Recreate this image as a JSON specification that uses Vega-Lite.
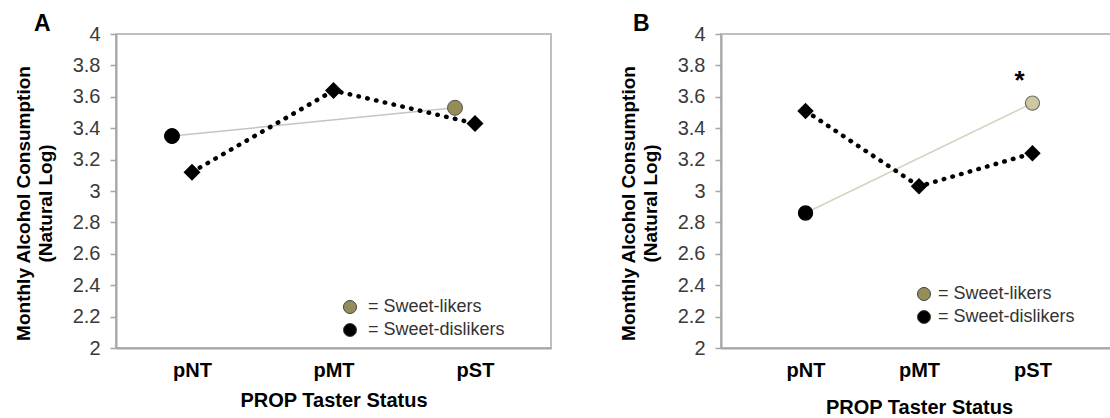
{
  "$schema": "https://vega.github.io/schema/vega-lite/v6.json",
  "padding": {"left": 13, "top": 12, "right": 0, "bottom": 0},
  "background": "white",
  "config": {
    "font": "Liberation Sans",
    "view": {"stroke": "#bfbfbf", "strokeWidth": 2},
    "axis": {"grid": false, "domainColor": "#a6a6a6", "domainWidth": 2, "tickColor": "#a6a6a6", "tickWidth": 1.5}
  },
  "datasets": {
    "a": [
      {"status": "pNT", "group": "Sweet-likers", "value": 3.35},
      {"status": "pST", "group": "Sweet-likers", "value": 3.53},
      {"status": "pNT", "group": "Sweet-dislikers", "value": 3.12},
      {"status": "pMT", "group": "Sweet-dislikers", "value": 3.64},
      {"status": "pST", "group": "Sweet-dislikers", "value": 3.43}
    ],
    "b": [
      {"status": "pNT", "group": "Sweet-likers", "value": 2.86},
      {"status": "pST", "group": "Sweet-likers", "value": 3.56, "sig": "*"},
      {"status": "pNT", "group": "Sweet-dislikers", "value": 3.51},
      {"status": "pMT", "group": "Sweet-dislikers", "value": 3.03},
      {"status": "pST", "group": "Sweet-dislikers", "value": 3.24}
    ]
  },
  "spacing": 66,
  "resolve": {"scale": {"fill": "independent"}, "legend": {"fill": "independent"}},
  "hconcat": [
    {
      "width": 435,
      "height": 314,
      "title": {"text": "A", "anchor": "start", "frame": "group", "dx": -82, "fontSize": 23, "fontWeight": "bold", "offset": -12, "color": "#000"},
      "data": {"name": "a"},
      "encoding": {
        "x": {
          "field": "status", "type": "ordinal", "sort": ["pNT", "pMT", "pST"],
          "scale": {"type": "point", "padding": 0.537},
          "axis": {"title": "PROP Taster Status", "labelAngle": 0, "ticks": false, "tickSize": 0, "labelFontSize": 20, "labelFontWeight": "bold", "labelColor": "#000", "labelPadding": 12, "titleFontSize": 20, "titleFontWeight": "bold", "titleColor": "#000", "titlePadding": 10}
        },
        "y": {
          "field": "value", "type": "quantitative",
          "scale": {"domain": [2, 4], "nice": false, "zero": false},
          "axis": {"values": [2, 2.2, 2.4, 2.6, 2.8, 3, 3.2, 3.4, 3.6, 3.8, 4], "format": "~g", "labelFontSize": 20, "labelColor": "#3a3a3a", "tickSize": 6, "labelPadding": 10, "title": ["Monthly Alcohol Consumption", "(Natural Log)"], "titleFontSize": 19, "titleFontWeight": "bold", "titleColor": "#000", "titleLineHeight": 22, "titleX": -83, "titleY": 169}
        }
      },
      "layer": [
        {
          "transform": [{"filter": "datum.group === 'Sweet-likers'"}],
          "mark": {"type": "line", "color": "#c4c4c4", "strokeWidth": 1.5, "xOffset": -20}
        },
        {
          "transform": [{"filter": "datum.group === 'Sweet-dislikers'"}],
          "mark": {"type": "line", "color": "#000", "strokeWidth": 4.5, "strokeDash": [0.5, 8.5], "strokeCap": "round"}
        },
        {
          "transform": [{"filter": "datum.group === 'Sweet-dislikers'"}],
          "mark": {"type": "point", "shape": "diamond", "filled": true, "size": 290, "color": "#000", "opacity": 1}
        },
        {
          "transform": [{"filter": "datum.group === 'Sweet-likers'"}],
          "mark": {"type": "point", "shape": "circle", "filled": true, "size": 225, "opacity": 1, "strokeWidth": 1, "xOffset": -20},
          "encoding": {
            "fill": {
              "field": "group", "type": "nominal",
              "scale": {"domain": ["Sweet-likers", "Sweet-dislikers"], "range": ["#948d58", "#000000"]},
              "condition": {"test": "datum.status === 'pNT'", "value": "#000"},
              "legend": {"title": null, "orient": "none", "legendX": 225, "legendY": 264, "labelExpr": "'= ' + datum.label", "labelFontSize": 18, "labelColor": "#333", "symbolSize": 170, "symbolType": "circle", "symbolStrokeColor": "#444", "symbolStrokeWidth": 1, "rowPadding": 5, "labelOffset": 9, "padding": 0}
            },
            "stroke": {"condition": {"test": "datum.status === 'pNT'", "value": "#000"}, "value": "#555"}
          }
        }
      ]
    },
    {
      "width": 396,
      "height": 314,
      "title": {"text": "B", "anchor": "start", "frame": "group", "dx": -88, "fontSize": 23, "fontWeight": "bold", "offset": -12, "color": "#000"},
      "data": {"name": "b"},
      "encoding": {
        "x": {
          "field": "status", "type": "ordinal", "sort": ["pNT", "pMT", "pST"],
          "scale": {"type": "point", "padding": 0.745},
          "axis": {"title": "PROP Taster Status", "labelAngle": 0, "ticks": false, "tickSize": 0, "labelFontSize": 20, "labelFontWeight": "bold", "labelColor": "#000", "labelPadding": 12, "titleFontSize": 20, "titleFontWeight": "bold", "titleColor": "#000", "titlePadding": 17}
        },
        "y": {
          "field": "value", "type": "quantitative",
          "scale": {"domain": [2, 4], "nice": false, "zero": false},
          "axis": {"values": [2, 2.2, 2.4, 2.6, 2.8, 3, 3.2, 3.4, 3.6, 3.8, 4], "format": "~g", "labelFontSize": 20, "labelColor": "#3a3a3a", "tickSize": 6, "labelPadding": 10, "title": ["Monthly Alcohol Consumption", "(Natural Log)"], "titleFontSize": 19, "titleFontWeight": "bold", "titleColor": "#000", "titleLineHeight": 22, "titleX": -83, "titleY": 169}
        }
      },
      "layer": [
        {
          "transform": [{"filter": "datum.group === 'Sweet-likers'"}],
          "mark": {"type": "line", "color": "#d6d2bd", "strokeWidth": 1.5}
        },
        {
          "transform": [{"filter": "datum.group === 'Sweet-dislikers'"}],
          "mark": {"type": "line", "color": "#000", "strokeWidth": 4.5, "strokeDash": [0.5, 8.5], "strokeCap": "round"}
        },
        {
          "transform": [{"filter": "datum.group === 'Sweet-dislikers'"}],
          "mark": {"type": "point", "shape": "diamond", "filled": true, "size": 270, "color": "#000", "opacity": 1}
        },
        {
          "transform": [{"filter": "datum.group === 'Sweet-likers'"}],
          "mark": {"type": "point", "shape": "circle", "filled": true, "size": 200, "opacity": 1, "strokeWidth": 1.2},
          "encoding": {
            "fill": {
              "field": "group", "type": "nominal",
              "scale": {"domain": ["Sweet-likers", "Sweet-dislikers"], "range": ["#948d58", "#000000"]},
              "condition": [
                {"test": "datum.status === 'pNT'", "value": "#000"},
                {"test": "datum.status === 'pST'", "value": "#cdc7a2"}
              ],
              "legend": {"title": null, "orient": "none", "legendX": 194, "legendY": 251, "labelExpr": "'= ' + datum.label", "labelFontSize": 18, "labelColor": "#333", "symbolSize": 170, "symbolType": "circle", "symbolStrokeColor": "#444", "symbolStrokeWidth": 1, "rowPadding": 5, "labelOffset": 5, "padding": 0}
            },
            "stroke": {"condition": {"test": "datum.status === 'pNT'", "value": "#000"}, "value": "#6f6f6f"}
          }
        },
        {
          "transform": [{"filter": "datum.sig"}],
          "mark": {"type": "text", "dx": -13, "dy": -22, "fontSize": 26, "fontWeight": "bold", "color": "#000"},
          "encoding": {"text": {"field": "sig"}}
        }
      ]
    }
  ]
}
